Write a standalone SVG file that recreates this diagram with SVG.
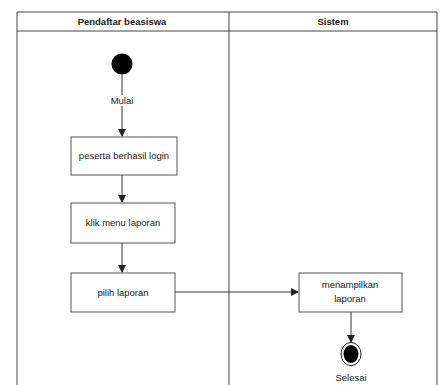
<svg xmlns="http://www.w3.org/2000/svg" width="446" height="385" viewBox="0 0 446 385">
<style>
.lane{fill:none;stroke:#444;stroke-width:1}
.box{fill:#fff;stroke:#555;stroke-width:1}
.t{font-family:"Liberation Sans",Arial,sans-serif;font-size:9.5px;fill:#222;text-anchor:middle}
.h{font-family:"Liberation Sans",Arial,sans-serif;font-size:9.5px;font-weight:bold;fill:#222;text-anchor:middle}
.c{fill:none;stroke:#333;stroke-width:1}
</style>
<defs>
<marker id="arr" markerWidth="8" markerHeight="8" refX="7" refY="4" orient="auto" markerUnits="userSpaceOnUse">
<path d="M0,0 L8,4 L0,8 Z" fill="#222"/>
</marker>
</defs>
<rect width="446" height="385" fill="#fff"/>
<g id="lanes">
<path class="lane" d="M17,385 V12 H437 V385"/>
<line class="lane" x1="17" y1="31" x2="437" y2="31"/>
<line class="lane" x1="229" y1="12" x2="229" y2="385"/>
<text class="h" x="122" y="25">Pendaftar beasiswa</text>
<text class="h" x="333" y="25">Sistem</text>
</g>
<g id="connectors">
<line class="c" x1="122" y1="75" x2="122" y2="136" marker-end="url(#arr)"/>
<line class="c" x1="122" y1="175" x2="122" y2="202" marker-end="url(#arr)"/>
<line class="c" x1="122" y1="243" x2="122" y2="272" marker-end="url(#arr)"/>
<line class="c" x1="175" y1="292" x2="298" y2="292" marker-end="url(#arr)"/>
<line class="c" x1="351" y1="312" x2="351" y2="342" marker-end="url(#arr)"/>
</g>
<g id="start">
<circle cx="122" cy="64" r="10.5" fill="#000"/>
<rect x="107" y="95" width="30" height="11" fill="#fff"/>
<text class="t" x="122" y="104">Mulai</text>
</g>
<g id="login">
<rect class="box" x="71" y="137" width="106" height="38"/>
<text class="t" x="124" y="159">peserta berhasil login</text>
</g>
<g id="menu">
<rect class="box" x="71" y="203" width="104" height="40"/>
<text class="t" x="123" y="226">klik menu laporan</text>
</g>
<g id="pilih">
<rect class="box" x="71" y="273" width="104" height="39"/>
<text class="t" x="123" y="296">pilih laporan</text>
</g>
<g id="tampil">
<rect class="box" x="299" y="273" width="103" height="39"/>
<text class="t" x="350" y="288">menampilkan</text>
<text class="t" x="350" y="302">laporan</text>
</g>
<g id="end">
<ellipse cx="351" cy="354" rx="10" ry="11.5" fill="#fff" stroke="#222" stroke-width="1"/>
<ellipse cx="351" cy="354" rx="7.5" ry="9" fill="#000"/>
<text class="t" x="351" y="381">Selesai</text>
</g>
</svg>
